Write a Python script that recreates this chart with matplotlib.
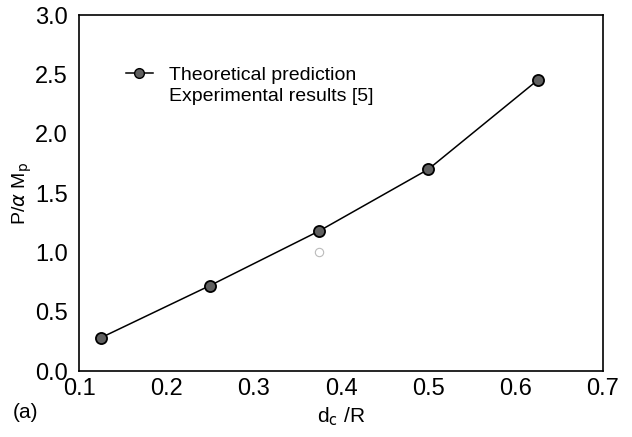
import matplotlib.pyplot as plt
from matplotlib.lines import Line2D

plt.rcParams['font.family'] = ['Liberation Sans', 'DejaVu Sans']

# data
dc_ratio = [0.125, 0.25, 0.375, 0.5, 0.625]
theory = [0.28, 0.72, 1.18, 1.70, 2.45]
exp_x = [0.375]
exp_y = [1.00]

x_ticks = [0.1, 0.2, 0.3, 0.4, 0.5, 0.6, 0.7]
y_ticks = [0.0, 0.5, 1.0, 1.5, 2.0, 2.5, 3.0]

fig = plt.figure(figsize=(6.32, 4.37), dpi=100)
ax = fig.add_axes([79 / 632, 1 - 371 / 437, (603 - 79) / 632, (371 - 15) / 437])

ax.plot(dc_ratio, theory, color='black', lw=1.1, marker='o', ms=8,
        mfc='#606060', mec='black', mew=1.3)
ax.plot(exp_x, exp_y, ls='none', marker='o', ms=6, mfc='none',
        mec='#bbbbbb', mew=0.8)

ax.set_xlim(0.1, 0.7)
ax.set_ylim(0.0, 3.0)
ax.set_xticks(x_ticks)
ax.set_yticks(y_ticks)
ax.set_xticklabels([f"{v:.1f}" for v in x_ticks])
ax.set_yticklabels([f"{v:.1f}" for v in y_ticks])
ax.tick_params(axis='x', length=0, labelsize=17, pad=5)
ax.tick_params(axis='y', length=0, labelsize=17, pad=8)
for s in ax.spines.values():
    s.set_linewidth(1.2)

ax.set_xlabel(r"d$_\mathrm{c}$ /R", fontsize=15, labelpad=4)
ax.set_ylabel(r"P/$\alpha$ M$_\mathrm{p}$", fontsize=14, labelpad=1)

handles = [
    Line2D([], [], color='black', lw=1.1, marker='o', ms=7,
           mfc='#606060', mec='black'),
    Line2D([], [], ls='none', marker='none'),
]
ax.legend(handles, ["Theoretical prediction", "Experimental results [5]"],
          loc='upper left', bbox_to_anchor=(0.056, 0.905), frameon=False,
          fontsize=14, handlelength=1.4, labelspacing=0.2)

fig.text(13 / 632, 1 - 413 / 437, "(a)", fontsize=15, va='center')

fig.savefig("out.png", dpi=100)
